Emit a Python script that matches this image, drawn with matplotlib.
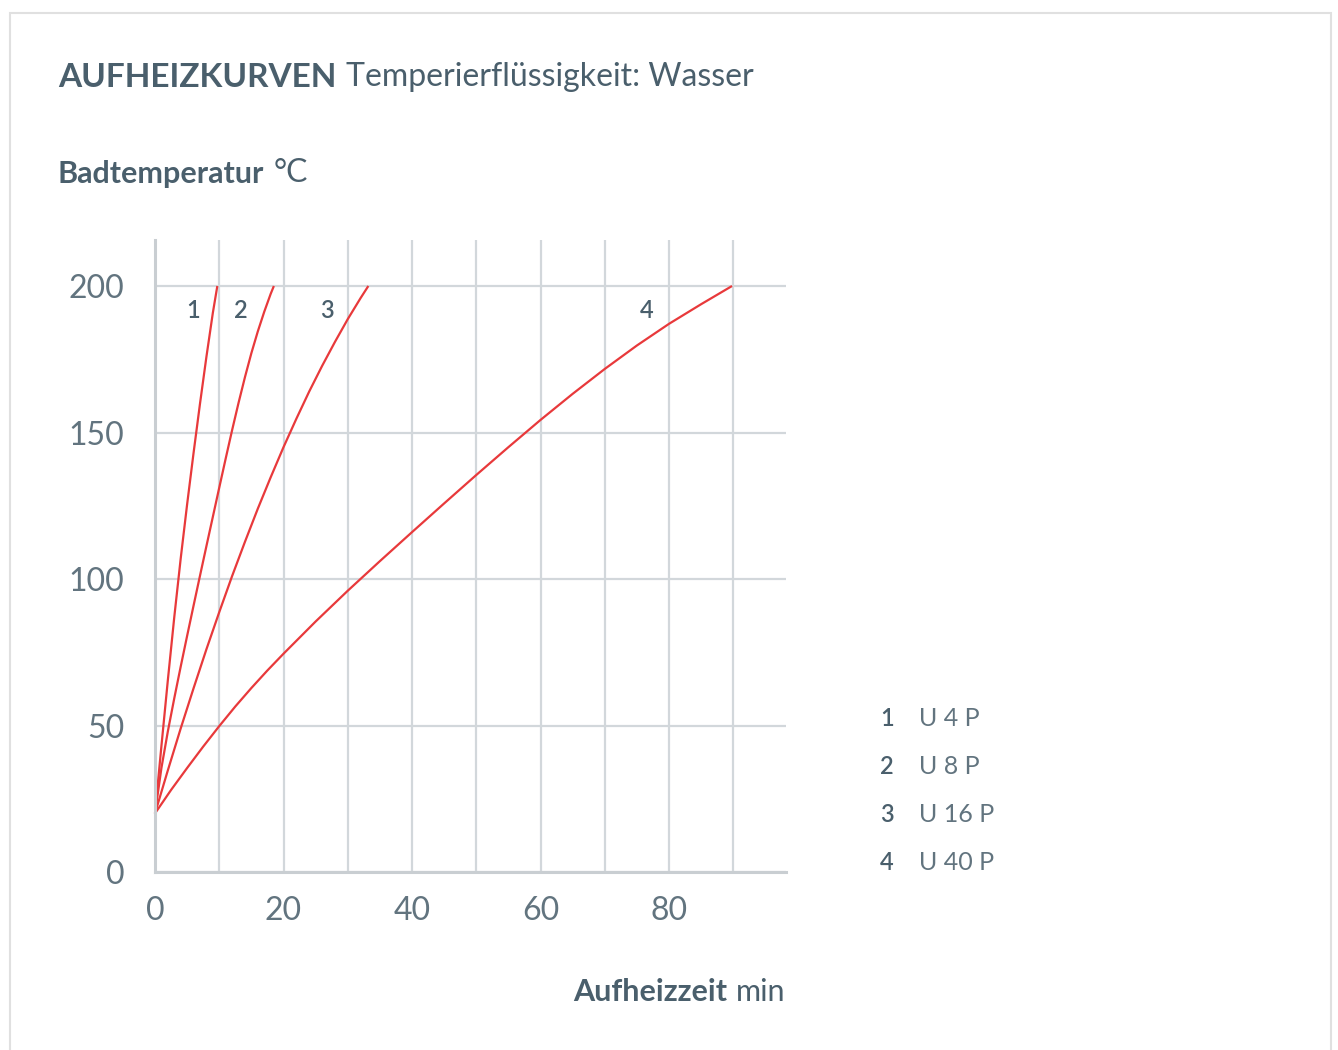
import matplotlib
matplotlib.use("Agg")
import matplotlib.pyplot as plt
from matplotlib.patches import Rectangle

# heating curves (time in min, bath temperature in °C)
u4p_t = [0, 1, 2, 3, 4, 5, 6, 7, 8, 9, 9.7]
u4p_temp = [20, 43, 65.5, 87, 107, 125.5, 143, 159.8, 175.8, 190.8, 200]

u8p_t = [0, 1, 2, 3, 4, 5, 6, 7, 8, 9, 10, 11, 12, 13, 14, 15, 16, 17, 18, 18.5]
u8p_temp = [20, 35.5, 48, 59.3, 70.1, 80.6, 90.9, 101.1, 111.2, 121.2, 131.2,
            141.1, 150.8, 160.1, 168.9, 177.1, 184.5, 191.2, 197.3, 200]

u16p_t = [0, 2, 4, 6, 8, 10, 12, 14, 16, 18, 20, 22, 24, 26, 28, 30, 32, 33.2]
u16p_temp = [20, 34.7, 49.0, 62.7, 76.0, 88.7, 101.0, 112.7, 124.0, 134.7, 145.0,
             154.7, 164.0, 172.7, 180.9, 188.7, 195.9, 200]

u40p_t = [0, 2.5, 5, 7.5, 10, 12.5, 15, 17.5, 20, 25, 30, 35, 40, 45, 50, 55, 60,
          65, 70, 75, 80, 85, 89.8]
u40p_temp = [20, 28, 35.5, 42.8, 49.8, 56.5, 62.8, 68.8, 74.5, 85.5, 96, 106.1, 116,
             125.8, 135.5, 145, 154.3, 163.2, 171.7, 179.7, 187.1, 193.8, 200]

curve_ids = ["1", "2", "3", "4"]
model_names = ["U 4 P", "U 8 P", "U 16 P", "U 40 P"]
label_x = [5.9, 13.4, 26.8, 76.6]
label_y = 191.5

x_ticks = [0, 20, 40, 60, 80]
y_ticks = [0, 50, 100, 150, 200]

RED = "#e8393b"
DARK = "#4a5f6c"
TICK = "#62747f"
GRID = "#d2d7db"

plt.rcParams["font.family"] = ["Lato", "DejaVu Sans"]

W, H = 1338, 1050
fig = plt.figure(figsize=(W / 100, H / 100), dpi=100)
fig.patch.set_facecolor("white")

# thin frame round the card
fig.add_artist(Rectangle((10 / W, -0.02), (1331 - 10) / W, 1 - 13 / H + 0.02,
                         transform=fig.transFigure, fill=False,
                         edgecolor="#e0e0e0", lw=1.5))

ax = fig.add_axes([155 / W, 1 - 872 / H, (786 - 155) / W, (872 - 240) / H])
ax.set_xlim(0, 98.2)
ax.set_ylim(0, 215.7)

ax.set_xticks(x_ticks)
ax.set_yticks(y_ticks)
ax.set_xticks(range(0, 100, 10), minor=True)
ax.tick_params(which="both", length=0)
ax.tick_params(axis="x", pad=17, labelsize=23, labelcolor=TICK)
ax.tick_params(axis="y", pad=22, labelsize=23, labelcolor=TICK)

ax.grid(True, axis="x", which="both", color=GRID, lw=1.6)
ax.grid(True, axis="y", which="major", color=GRID, lw=1.6)
ax.set_axisbelow(True)
for side in ["top", "right"]:
    ax.spines[side].set_visible(False)
for side in ["left", "bottom"]:
    ax.spines[side].set_color("#c9ced2")
    ax.spines[side].set_linewidth(2.2)

series = [(u4p_t, u4p_temp), (u8p_t, u8p_temp), (u16p_t, u16p_temp), (u40p_t, u40p_temp)]
for (t, temp) in series:
    ax.plot(t, temp, color=RED, lw=1.6, solid_capstyle="butt",
            solid_joinstyle="round", clip_on=False)

for cid, lx in zip(curve_ids, label_x):
    ax.text(lx, label_y, cid, ha="center", va="center", fontsize=17,
            fontweight="semibold", color=DARK)

# title line
t1 = fig.text(58 / W, 1 - 87 / H, "AUFHEIZKURVEN", fontsize=24, fontweight="bold",
              color=DARK, va="baseline")
ax.annotate("Temperierflüssigkeit: Wasser", xy=(1, 0), xycoords=t1,
            xytext=(7, 0), textcoords="offset points", va="bottom",
            fontsize=23, color=DARK, annotation_clip=False)

# y axis caption
t2 = fig.text(58 / W, 1 - 183 / H, "Badtemperatur", fontsize=22, fontweight="bold",
              color=DARK, va="baseline")
ax.annotate("°C", xy=(1, 0), xycoords=t2, xytext=(7, 0), textcoords="offset points",
            va="bottom", fontsize=23, color=DARK, annotation_clip=False)

# x axis caption
t3 = fig.text(785 / W, 1 - 1001 / H, "min", fontsize=22, color=DARK,
              ha="right", va="baseline")
ax.annotate("Aufheizzeit", xy=(0, 0), xycoords=t3, xytext=(-6, 0),
            textcoords="offset points", ha="right", va="bottom", fontsize=22,
            fontweight="bold", color=DARK, annotation_clip=False)

# legend
row_y = [719, 767, 815, 863]
for cid, name, ry in zip(curve_ids, model_names, row_y):
    fig.text(887 / W, 1 - ry / H, cid, ha="center", va="center", fontsize=17,
             fontweight="semibold", color=DARK)
    fig.text(919 / W, 1 - ry / H, name, ha="left", va="center", fontsize=18,
             color=TICK)

fig.savefig("out.png", dpi=100)
